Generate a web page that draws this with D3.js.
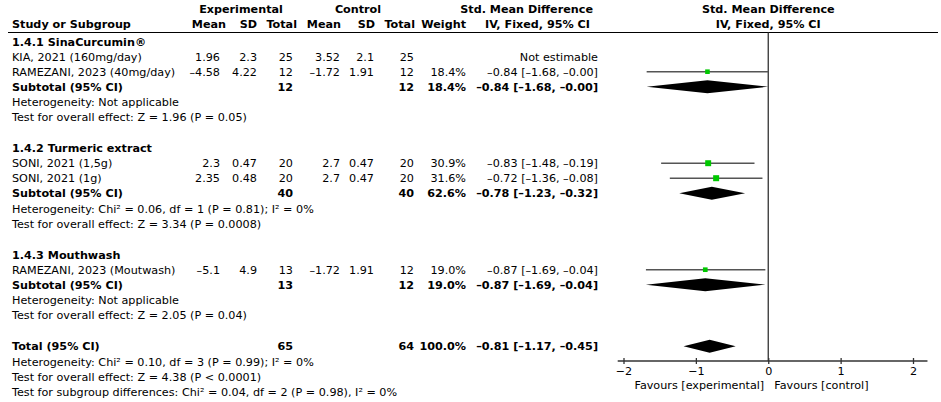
<!DOCTYPE html>
<html>
<head>
<meta charset="utf-8">
<script src="https://cdn.jsdelivr.net/npm/d3@7"></script>
<style>
  body { margin: 0; background: #fff; }
  svg text { font-family: "DejaVu Sans", sans-serif; font-size: 11.2px; fill: #000; }
  .b { font-weight: bold; }
</style>
</head>
<body>
<div id="chart"></div>
<script>
// forest plot - SMD, IV fixed

var groupNames = ["1.4.1 SinaCurcumin®", "1.4.2 Turmeric extract", "1.4.3 Mouthwash"];

var studyNames = ["KIA, 2021 (160mg/day)", "RAMEZANI, 2023 (40mg/day)", "SONI, 2021 (1,5g)", "SONI, 2021 (1g)", "RAMEZANI, 2023 (Moutwash)"];
var studyGroup = [0, 0, 1, 1, 2];
var expMean = [1.96, -4.58, 2.3, 2.35, -5.1];
var expSD = [2.3, 4.22, 0.47, 0.48, 4.9];
var expN = [25, 12, 20, 20, 13];
var ctlMean = [3.52, -1.72, 2.7, 2.7, -1.72];
var ctlSD = [2.1, 1.91, 0.47, 0.47, 1.91];
var ctlN = [25, 12, 20, 20, 12];
var weight = [null, 18.4, 30.9, 31.6, 19.0];
var smd = [null, -0.84, -0.83, -0.72, -0.87];
var smdLo = [null, -1.68, -1.48, -1.36, -1.69];
var smdHi = [null, -0.00, -0.19, -0.08, -0.04];

var subExpN = [12, 40, 13];
var subCtlN = [12, 40, 12];
var subWeight = [18.4, 62.6, 19.0];
var subSmd = [-0.84, -0.78, -0.87];
var subLo = [-1.68, -1.23, -1.69];
var subHi = [-0.00, -0.32, -0.04];
var subHet = ["Heterogeneity: Not applicable",
              "Heterogeneity: Chi² = 0.06, df = 1 (P = 0.81); I² = 0%",
              "Heterogeneity: Not applicable"];
var subTest = ["Test for overall effect: Z = 1.96 (P = 0.05)",
               "Test for overall effect: Z = 3.34 (P = 0.0008)",
               "Test for overall effect: Z = 2.05 (P = 0.04)"];

var totalExpN = 65, totalCtlN = 64, totalWeight = 100.0;
var totalSmd = -0.81, totalLo = -1.17, totalHi = -0.45;
var totalNotes = ["Heterogeneity: Chi² = 0.10, df = 3 (P = 0.99); I² = 0%",
                  "Test for overall effect: Z = 4.38 (P < 0.0001)",
                  "Test for subgroup differences: Chi² = 0.04, df = 2 (P = 0.98), I² = 0%"];

var axisTicks = [-2, -1, 0, 1, 2];

var width = 941, height = 402;

var svg = d3.select("#chart").append("svg")
    .attr("width", width)
    .attr("height", height);

// columns (right edges)
var col = {label: 12, eMean: 220, eSD: 257, eN: 293, cMean: 340, cSD: 374, cN: 414, w: 466, ci: 598};

var x = d3.scaleLinear().domain([-2, 2]).range([623.5, 913]);

// row positions in line units
var lineH = 15;
var y = function (u) { return 41.7 + u * lineH; };

var dash = "–";
function num(v) { return (v < 0 ? dash : "") + Math.abs(v); }
function f2(v) { return ((v < 0 || 1 / v < 0) ? dash : "") + Math.abs(v).toFixed(2); }
function ci(m, lo, hi) { return f2(m) + " [" + f2(lo) + ", " + f2(hi) + "]"; }

// build row list
var rows = [];
var u = 0;
groupNames.forEach(function (g, gi) {
    if (gi > 0) u += 2.05;
    rows.push({type: "group", u: u, label: g});
    studyNames.forEach(function (s, i) {
        if (studyGroup[i] !== gi) return;
        u += 1;
        rows.push({type: "study", u: u, i: i});
    });
    u += 1;
    rows.push({type: "sub", u: u, g: gi});
    u += 1.05;
    rows.push({type: "note", u: u, label: subHet[gi]});
    u += 1;
    rows.push({type: "note", u: u, label: subTest[gi]});
});
u += 2.05;
rows.push({type: "total", u: u});
u += 1.05;
totalNotes.forEach(function (t, k) {
    rows.push({type: "note", u: u, label: t});
    u += 1;
});

// header
function txt(xp, yp, s, anchor, cls) {
    return svg.append("text")
        .attr("x", xp)
        .attr("y", yp)
        .attr("text-anchor", anchor || "start")
        .attr("class", cls || null)
        .text(s);
}

txt(241, 12.5, "Experimental", "middle", "b");
txt(358, 12.5, "Control", "middle", "b");
txt(593, 12.5, "Std. Mean Difference", "end", "b");
txt(x(0), 12.5, "Std. Mean Difference", "middle", "b");
txt(col.label, 28, "Study or Subgroup", "start", "b");
txt(226, 28, "Mean", "end", "b");
txt(257, 28, "SD", "end", "b");
txt(297, 28, "Total", "end", "b");
txt(341, 28, "Mean", "end", "b");
txt(375, 28, "SD", "end", "b");
txt(415, 28, "Total", "end", "b");
txt(466, 28, "Weight", "end", "b");
txt(590, 28, "IV, Fixed, 95% CI", "end", "b");
txt(x(0), 28, "IV, Fixed, 95% CI", "middle", "b");

svg.append("line")
    .attr("x1", 8).attr("x2", 938)
    .attr("y1", 32.5).attr("y2", 32.5)
    .attr("stroke", "#000").attr("stroke-width", 1);

// axis
var axisY = 361;
svg.append("line")
    .attr("x1", x(0)).attr("x2", x(0))
    .attr("y1", 32.5).attr("y2", axisY)
    .attr("stroke", "#333").attr("stroke-width", 1.3);

var gAxis = svg.append("g")
    .attr("transform", "translate(0," + axisY + ")")
    .call(d3.axisBottom(x).tickValues(axisTicks).tickFormat(d3.format("d"))
        .tickSizeOuter(0).tickSize(3).tickPadding(3));
gAxis.select(".domain").remove();
gAxis.selectAll(".tick line").attr("y1", -3).attr("stroke", "#333").attr("stroke-width", 1.3);
gAxis.selectAll(".tick text").style("font-size", "11.2px").style("font-family", "DejaVu Sans").attr("fill", "#000");
gAxis.append("line")
    .attr("x1", x(-2.08)).attr("x2", x(2.2))
    .attr("stroke", "#333").attr("stroke-width", 1.3);

txt(x(0) - 4, 389, "Favours [experimental]", "end");
txt(x(0) + 6, 389, "Favours [control]", "start");

// rows
var base = 4;
rows.forEach(function (r) {
    var yc = y(r.u);
    var yb = yc + base;
    if (r.type === "group") {
        txt(col.label, yb, r.label, "start", "b");
    } else if (r.type === "note") {
        txt(col.label, yb, r.label, "start");
    } else if (r.type === "study") {
        var i = r.i;
        txt(col.label, yb, studyNames[i]);
        txt(col.eMean, yb, num(expMean[i]), "end");
        txt(col.eSD, yb, num(expSD[i]), "end");
        txt(col.eN, yb, expN[i], "end");
        txt(col.cMean, yb, num(ctlMean[i]), "end");
        txt(col.cSD, yb, num(ctlSD[i]), "end");
        txt(col.cN, yb, ctlN[i], "end");
        if (weight[i] === null) {
            txt(col.ci, yb, "Not estimable", "end");
            return;
        }
        txt(col.w, yb, weight[i].toFixed(1) + "%", "end");
        txt(col.ci, yb, ci(smd[i], smdLo[i], smdHi[i]), "end");
        svg.append("line")
            .attr("x1", x(smdLo[i])).attr("x2", x(smdHi[i]))
            .attr("y1", yc).attr("y2", yc)
            .attr("stroke", "#555").attr("stroke-width", 1.5);
        var s = 1.07 * Math.sqrt(weight[i]);
        svg.append("rect")
            .attr("x", x(smd[i]) - s / 2).attr("y", yc - s / 2)
            .attr("width", s).attr("height", s)
            .attr("fill", "#00c800");
    } else {
        var isTot = r.type === "total";
        var g = r.g;
        var m = isTot ? totalSmd : subSmd[g],
            lo = isTot ? totalLo : subLo[g],
            hi = isTot ? totalHi : subHi[g],
            w = isTot ? totalWeight : subWeight[g];
        txt(col.label, yb, isTot ? "Total (95% CI)" : "Subtotal (95% CI)", "start", "b");
        txt(col.eN, yb, isTot ? totalExpN : subExpN[g], "end", "b");
        txt(col.cN, yb, isTot ? totalCtlN : subCtlN[g], "end", "b");
        txt(col.w, yb, w.toFixed(1) + "%", "end", "b");
        txt(col.ci, yb, ci(m, lo, hi), "end", "b");
        svg.append("polygon")
            .attr("points", [[x(lo), yc], [x(m), yc - 6.5], [x(hi), yc], [x(m), yc + 6.5]].join(" "))
            .attr("fill", "#000");
    }
});
</script>
</body>
</html>
